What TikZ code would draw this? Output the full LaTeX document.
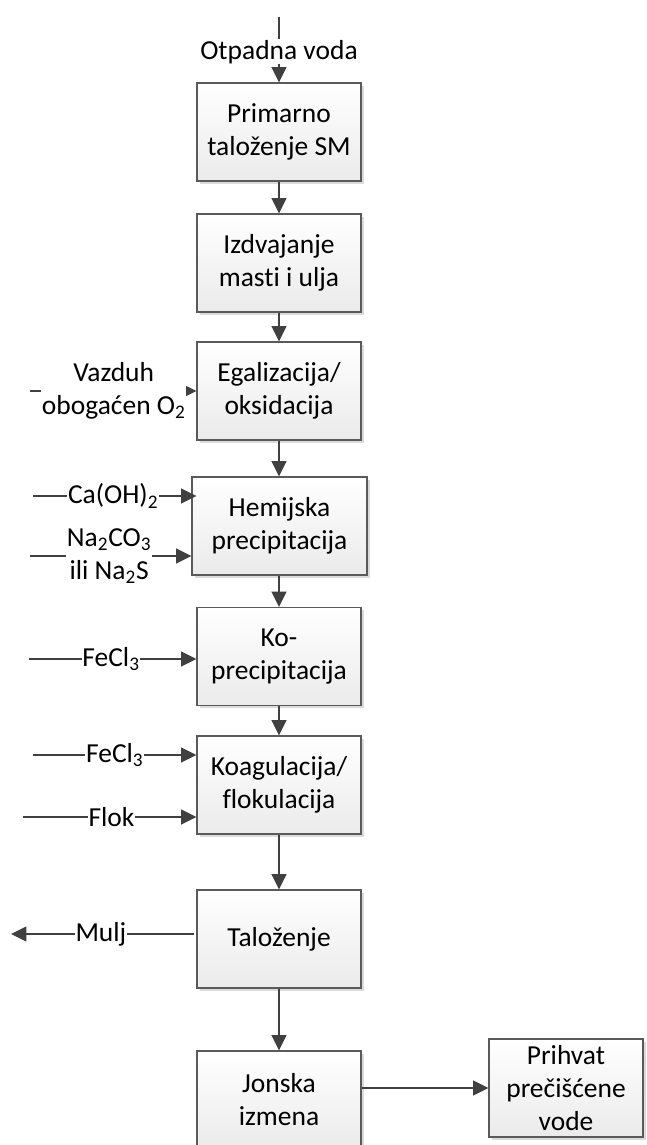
\documentclass[tikz,border=0pt]{standalone}
\usepackage{fontspec}
\setmainfont[Ligatures={NoCommon}]{Carlito}
\usetikzlibrary{arrows.meta,shadows,calc}
\definecolor{linec}{HTML}{404040}
\definecolor{boxline}{HTML}{5A5A5A}
\tikzset{
  procbox/.style={draw=boxline, line width=0.8pt, top color=white, bottom color=black!8,
    minimum width=123pt, minimum height=73.5pt, align=center, inner sep=2pt,
    font=\fontsize{20.6pt}{24.75pt}\selectfont, text=black,
    drop shadow={shadow xshift=2.2pt, shadow yshift=-2.2pt, fill=black!14, opacity=1}},
  flow/.style={draw=linec, line width=1.5pt, -{Triangle[length=11.5pt,width=11pt]}},
  lbl/.style={fill=white, inner sep=0.6pt, text=black, align=center,
    font=\fontsize{20.6pt}{24.75pt}\selectfont}
}
\begin{document}
\begin{tikzpicture}[x=0.75pt,y=-0.75pt]
\useasboundingbox (0,0) rectangle (646,1145);
\clip (0,0) rectangle (646,1145);
\fill[white] (0,0) rectangle (646,1145);

\node[procbox] (B1) at (279,132) {Primarno\\taloženje SM};
\node[procbox] (B2) at (279,263) {Izdvajanje\\masti i ulja};
\node[procbox] (B3) at (279,391) {Egalizacija/\\oksidacija};
\node[procbox, minimum width=131.25pt] (B4) at (279.5,526) {Hemijska\\precipitacija};
\node[procbox] (B5) at (279,656.5) {Ko-\\precipitacija};
\node[procbox] (B6) at (279,785) {Koagulacija/\\flokulacija};
\node[procbox] (B7) at (279,939) {Taloženje};
\node[procbox] (B8) at (279,1100) {Jonska\\izmena};
\node[procbox, minimum width=115.5pt] (B9) at (566,1088) {Prihvat\\prečišćene\\vode};

\coordinate (src) at (279,17);
\draw[flow] (src) -- node[lbl,pos=0.53]{Otpadna voda} (B1.north);
\draw[flow] (B1) -- (B2);
\draw[flow] (B2) -- (B3);
\draw[flow] (B3.south) -- (B3.south |- B4.north);
\draw[flow] (B4.south -| B5.north) -- (B5.north);
\draw[flow] (B5) -- (B6);
\draw[flow] (B6) -- (B7);
\draw[flow] (B7) -- (B8);
\draw[flow] (B8.east |- B9.west) -- (B9.west);

\coordinate (vz) at (30,391);
\coordinate (ca) at (33,496);
\coordinate (na) at (30,556);
\coordinate (fe1) at (29,659);
\coordinate (fe2) at (33,755);
\coordinate (flok) at (23,817);
\coordinate (mulj) at (11,934);

\draw[flow] (vz) -- node[lbl,pos=0.503]{Vazduh\\obogaćen O\textsubscript{2}} (B3.west |- vz);
\draw[flow] (ca) -- node[lbl,pos=0.49]{Ca(OH)\textsubscript{2}} ($(B4.west |- ca)+(5,0)$);
\draw[flow] (na) -- node[lbl,pos=0.49]{Na\textsubscript{2}CO\textsubscript{3}\\ili Na\textsubscript{2}S} (B4.west |- na);
\draw[flow] (fe1) -- node[lbl,pos=0.49]{FeCl\textsubscript{3}} (B5.west |- fe1);
\draw[flow] (fe2) -- node[lbl,pos=0.5]{FeCl\textsubscript{3}} (B6.west |- fe2);
\draw[flow] (flok) -- node[lbl,pos=0.51]{Flok} (B6.west |- flok);
\draw[flow] ($(B7.west |- mulj)+(-2,0)$) -- node[lbl,pos=0.51]{Mulj} (mulj);
\end{tikzpicture}
\end{document}
